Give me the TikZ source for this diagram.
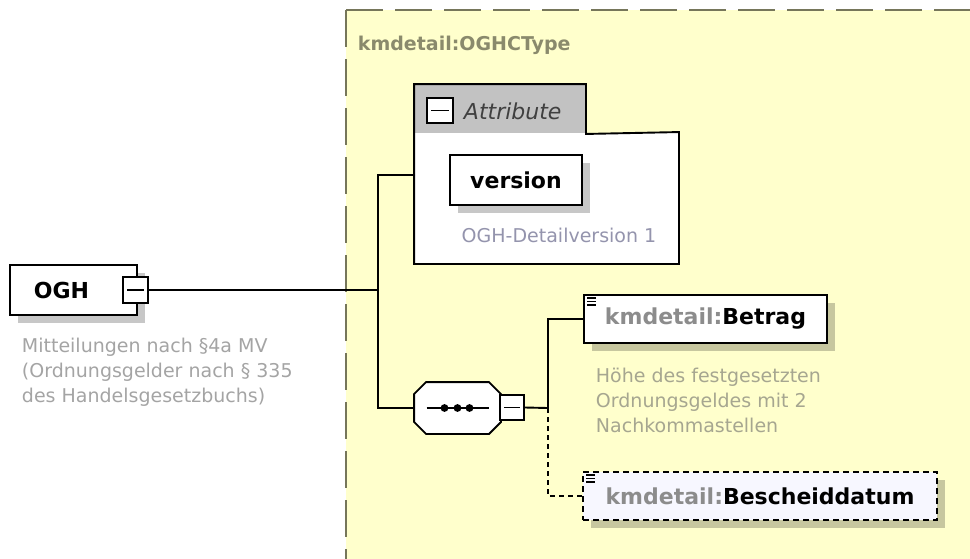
\documentclass[tikz,border=0pt]{standalone}
\usepackage{fontspec}
\setmainfont{DejaVu Sans}
\usetikzlibrary{calc,shadows}

\definecolor{typeyellow}{HTML}{FFFFCC}
\definecolor{typeborder}{HTML}{76765A}
\definecolor{typegray}{HTML}{8A8A6C}
\definecolor{docgray}{HTML}{A4A4A4}
\definecolor{docolive}{HTML}{A6A690}
\definecolor{tabgray}{HTML}{C2C2C2}
\definecolor{prefixgray}{HTML}{8C8C8C}

\begin{document}
\begin{tikzpicture}[x=1pt, y=-1pt, line width=1.9pt,
    elem/.style={draw, fill=white, rectangle, inner sep=0pt,
        drop shadow={shadow xshift=8pt, shadow yshift=-8pt, fill=black, opacity=.22}},
    minusbox/.style={draw, fill=white, rectangle, inner sep=0pt},
    elemname/.style={font=\bfseries\fontsize{22}{26}\selectfont},
    doc/.style={anchor=north west, align=left, inner sep=0pt, text=docgray,
        font=\fontsize{19}{25}\selectfont}]

    \useasboundingbox (0,0) rectangle (970,558);
    \clip (0,0) rectangle (970,558);

    % Complex type area
    \fill[typeyellow] (346,10) rectangle (990,580);
    \draw[typeborder, line width=1.6pt, dash pattern=on 37pt off 12pt] (346,10) -- (990,10);
    \draw[typeborder, line width=1.6pt, dash pattern=on 37pt off 12pt] (346,10) -- (346,580);
    \node[anchor=west, inner sep=0pt, text=typegray,
        font=\bfseries\fontsize{19}{22}\selectfont] (typename) at (357,45) {kmdetail:OGHCType};

    % Root element
    \node[elem, minimum width=127, minimum height=50] (ogh) at (73.5,290) {};
    \node[elemname, anchor=west, inner sep=0pt] (oghname) at (33,290) {OGH};
    \node[minusbox, minimum width=25, minimum height=26] (oghminus) at (135.5,290) {};
    \draw ($(oghminus.west)+(5,0)$) -- ($(oghminus.east)+(-5,0)$);
    \node[doc] (oghdoc) at (21,337) {Mitteilungen nach §4a MV\\(Ordnungsgelder nach § 335\\des Handelsgesetzbuchs)};

    % Attributes
    \node[fill=white, minimum width=263, minimum height=130, inner sep=0pt] (attrbody) at (546.5,198) {};
    \node[fill=tabgray, minimum width=170, minimum height=48, inner sep=0pt] (attrtab) at (500,109) {};
    \draw (attrtab.north west) -- (attrtab.north east) -- (attrtab.south east) -- (attrbody.north east)
        -- (attrbody.south east) -- (attrbody.south west) -- cycle;
    \node[minusbox, minimum width=26, minimum height=25] (attrminus) at (440,110.5) {};
    \draw ($(attrminus.west)+(5,0)$) -- ($(attrminus.east)+(-5,0)$);
    \node[anchor=west, inner sep=0pt, text=black!75,
        font=\itshape\fontsize{22}{26}\selectfont] (attrlabel) at (463,111) {Attribute};
    \node[elem, elemname, minimum width=132, minimum height=50] (version) at (516,180) {version};
    \node[doc, anchor=center, text=docgray!90!blue] (versiondoc) at (559,235) {OGH-Detailversion 1};

    % Sequence
    \node[minimum width=85, minimum height=50, inner sep=0pt] (seq) at (457.5,408) {};
    \fill[black, opacity=.22, shift={(8,8)}]
        ($(seq.north west)+(12,0)$) -- ($(seq.north east)+(-12,0)$) -- ($(seq.north east)+(0,12)$)
        -- ($(seq.south east)+(0,-12)$) -- ($(seq.south east)+(-12,0)$) -- ($(seq.south west)+(12,0)$)
        -- ($(seq.south west)+(0,-12)$) -- ($(seq.north west)+(0,12)$) -- cycle;
    \draw[fill=white]
        ($(seq.north west)+(12,0)$) -- ($(seq.north east)+(-12,0)$) -- ($(seq.north east)+(0,12)$)
        -- ($(seq.south east)+(0,-12)$) -- ($(seq.south east)+(-12,0)$) -- ($(seq.south west)+(12,0)$)
        -- ($(seq.south west)+(0,-12)$) -- ($(seq.north west)+(0,12)$) -- cycle;
    \draw ($(seq.center)+(-31,0)$) -- ($(seq.center)+(31,0)$);
    \foreach \dx in {-13,0,12}
        \fill ($(seq.center)+(\dx,0)$) circle (3.9);
    \node[minusbox, minimum width=24, minimum height=25] (seqminus) at (512,407.5) {};
    \draw ($(seqminus.west)+(5,0)$) -- ($(seqminus.east)+(-5,0)$);

    % Child elements
    \node[elem, elemname, minimum width=243, minimum height=48] (betrag) at (705.5,319)
        {\textcolor{prefixgray}{kmdetail:}Betrag};
    \node[doc, text=docolive] (betragdoc) at (595,367) {Höhe des festgesetzten\\Ordnungsgeldes mit 2\\Nachkommastellen};
    \node[elem, elemname, fill=white!97!blue, dash pattern=on 6pt off 4pt,
        minimum width=354, minimum height=48] (bescheid) at (760,496)
        {\textcolor{prefixgray}{kmdetail:}Bescheiddatum};
    \foreach \n in {betrag,bescheid}
        \foreach \dy in {4,7.5,11}
            \draw[line width=1.4pt] ($(\n.north west)+(4,\dy)$) -- ++(9,0);

    % Connectors
    \coordinate (fork) at (378,290);
    \coordinate (attrin) at (415,175);
    \coordinate (seqfork) at (548,408);
    \draw (oghminus.east) -- (fork);
    \draw (attrin) -| (fork) |- (seq.west);
    \draw (seqminus.east) -- (seqfork);
    \draw (seqfork) |- (betrag.west);
    \draw[dash pattern=on 5pt off 4pt] (seqfork) |- (bescheid.west);

\end{tikzpicture}
\end{document}
